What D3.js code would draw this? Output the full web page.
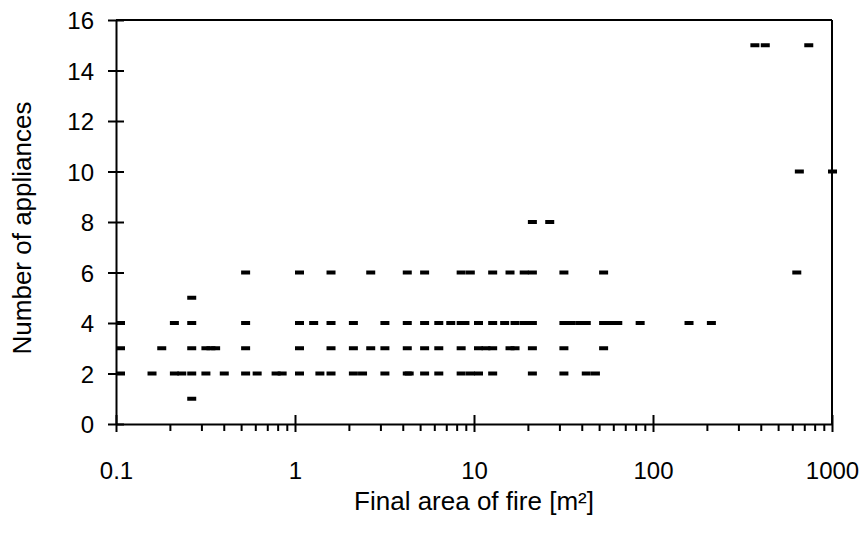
<!DOCTYPE html>
<html><head><meta charset="utf-8">
<script src="https://cdn.jsdelivr.net/npm/d3@7"></script>
<style>
body{margin:0;background:#fff}
text{font-family:"Liberation Sans",Arial,sans-serif;fill:#000}
</style>
</head><body>
<svg id="c" width="865" height="535"></svg>
<script>
// Final area of fire [m²] for each number of appliances
const appliances1 = [0.25];
const appliances2 = [0.1, 0.15, 0.2, 0.22, 0.25, 0.3, 0.38, 0.5, 0.58, 0.74, 0.8, 1, 1.3, 1.5, 2, 2.25, 3, 4, 4.1, 5, 6, 8, 9, 10, 12, 20, 30, 40, 45];
const appliances3 = [0.1, 0.17, 0.25, 0.3, 0.32, 0.34, 0.5, 1, 1.5, 2, 2.5, 3, 4, 5, 6, 8, 10, 11, 12, 15, 16, 20, 30, 50];
const appliances4 = [0.1, 0.2, 0.25, 0.5, 1, 1.2, 1.5, 2, 3, 4, 5, 6, 7, 8, 8.4, 10, 12, 14, 16, 18, 20, 30, 33, 37, 40, 50, 55, 60, 80, 150, 200];
const appliances5 = [0.25];
const appliances6 = [0.5, 1, 1.5, 2.5, 4, 5, 8, 9, 12, 15, 18, 20, 30, 50, 600];
const appliances8 = [20, 25];
const appliances10 = [620, 950];
const appliances15 = [350, 400, 700];

const xMajorTicks = [0.1, 1, 10, 100, 1000];
const xTickLabels = ["0.1", "1", "10", "100", "1000"];
const yTicks = [0, 2, 4, 6, 8, 10, 12, 14, 16];
const xTitle = "Final area of fire [m²]";
const yTitle = "Number of appliances";

const groups = [
  [1, appliances1], [2, appliances2], [3, appliances3], [4, appliances4],
  [5, appliances5], [6, appliances6], [8, appliances8], [10, appliances10], [15, appliances15]
];
const points = [];
groups.forEach(([n, arr]) => arr.forEach(a => points.push({area: a, n: n})));

const svg = d3.select("#c");
const L = 116, R = 832, T = 20, B = 424;
const x = d3.scaleLog().domain([0.1, 1000]).range([L, R]);
const y = d3.scaleLinear().domain([0, 16]).range([B, T]);

const xMinor = [];
for (let d = 0.1; d < 1000; d *= 10) for (let k = 2; k <= 9; k++) xMinor.push(+(d * k).toPrecision(3));

// frame (top and right)
svg.append("line").attr("x1", L).attr("x2", R).attr("y1", T).attr("y2", T)
  .attr("stroke", "#000").attr("stroke-width", 2);
svg.append("line").attr("x1", R).attr("x2", R).attr("y1", T).attr("y2", B)
  .attr("stroke", "#000").attr("stroke-width", 2);

// x minor ticks
const gxm = svg.append("g").attr("transform", `translate(0,${B})`)
  .call(d3.axisBottom(x).tickValues(xMinor).tickSize(7).tickSizeOuter(0).tickFormat(""));
gxm.select(".domain").remove();
gxm.selectAll(".tick line").attr("stroke", "#000").attr("stroke-width", 2);

// x major axis
const gx = svg.append("g").attr("transform", `translate(0,${B})`)
  .call(d3.axisBottom(x).tickValues(xMajorTicks).tickSize(8).tickSizeOuter(0)
    .tickFormat((d, i) => xTickLabels[i]));
gx.select(".domain").attr("stroke", "#000").attr("stroke-width", 2);
gx.selectAll(".tick line").attr("y1", -9).attr("stroke", "#000").attr("stroke-width", 2);
gx.selectAll(".tick text").attr("y", 0).attr("dy", "2.3em")
  .style("font-size", "24px").style("font-family", "'Liberation Sans', Arial, sans-serif");

// y axis
const gy = svg.append("g").attr("transform", `translate(${L},0)`)
  .call(d3.axisLeft(y).tickValues(yTicks).tickSize(8).tickSizeOuter(0));
gy.select(".domain").attr("stroke", "#000").attr("stroke-width", 2);
gy.selectAll(".tick line").attr("x1", 8).attr("stroke", "#000").attr("stroke-width", 2);
gy.selectAll(".tick text").attr("x", -22).attr("dy", "0.36em")
  .style("font-size", "24px").style("font-family", "'Liberation Sans', Arial, sans-serif");

// markers (short dashes)
svg.append("g").selectAll("rect").data(points).join("rect")
  .attr("x", d => x(d.area))
  .attr("y", d => y(d.n) - 2)
  .attr("width", 9).attr("height", 4)
  .attr("fill", "#000");

// titles
svg.append("text").attr("x", (L + R) / 2).attr("y", 510).attr("text-anchor", "middle")
  .style("font-size", "26px").text(xTitle);
svg.append("text").attr("transform", `translate(31,${(T + B) / 2 + 6}) rotate(-90)`)
  .attr("text-anchor", "middle").style("font-size", "26px").text(yTitle);
</script>
</body></html>
